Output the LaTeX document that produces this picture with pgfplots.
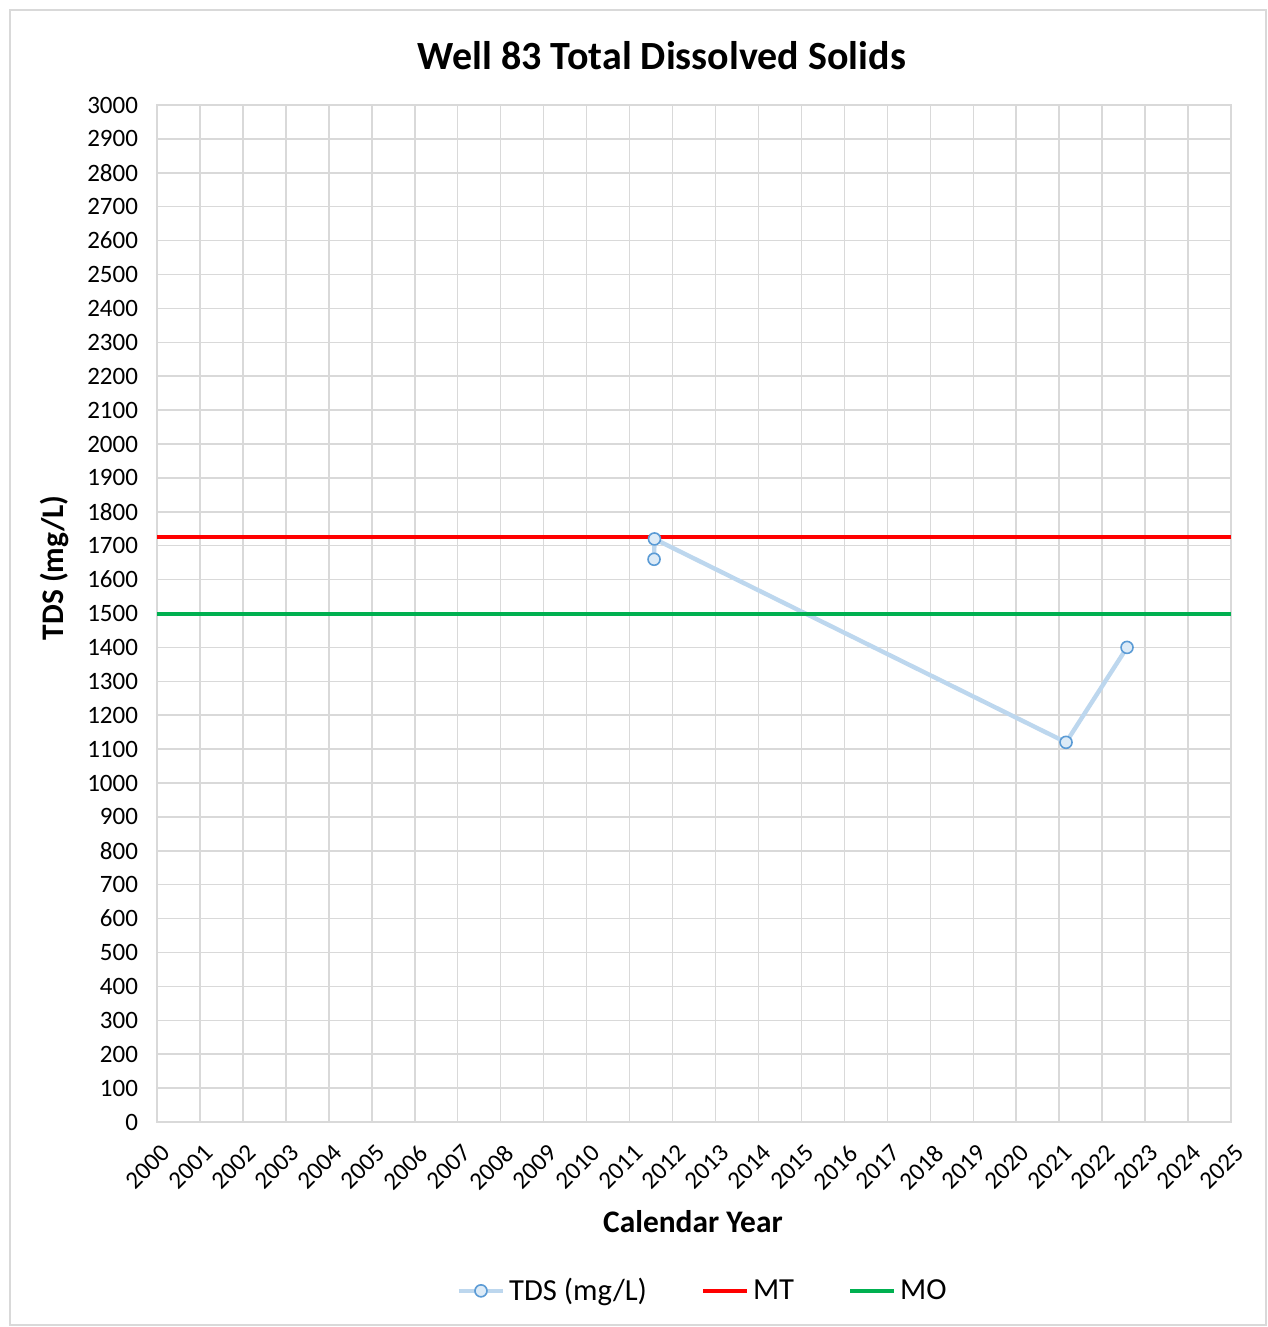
\documentclass[border=0pt]{standalone}
\usepackage{fontspec}
\setmainfont{Carlito}
\usepackage{pgfplots}
\pgfplotsset{compat=1.18}
\definecolor{gridc}{RGB}{217,217,217}
\definecolor{framec}{RGB}{217,217,217}
\definecolor{tdsline}{RGB}{189,215,238}
\definecolor{tdsedge}{RGB}{91,155,213}
\definecolor{tdsfill}{RGB}{221,235,247}
\definecolor{mtred}{RGB}{255,0,0}
\definecolor{mogreen}{RGB}{0,176,80}
\begin{document}
\begin{tikzpicture}
\path[use as bounding box] (0pt,0pt) rectangle (634pt,-663.5pt);
\draw[framec, line width=0.6pt] (5pt,-5pt) rectangle (633pt,-662.5pt);
\begin{axis}[
  at={(78.5pt,-561pt)}, anchor=south west,
  scale only axis, width=537pt, height=508.5pt,
  xmin=2000, xmax=2025, ymin=0, ymax=3000,
  xtick={2000,2001,...,2025}, ytick={0,100,...,3000},
  /pgf/number format/1000 sep={},
  /pgf/number format/assume math mode=true,
  major tick length=0pt,
  grid=major,
  major grid style={draw=gridc, line width=0.75pt},
  axis line style={draw=gridc, line width=0.75pt},
  ticklabel style={font=\fontsize{12.5}{14}\selectfont},
  yticklabel style={xshift=-6pt},
  xticklabel style={xshift=1.5pt, yshift=-9pt, rotate=45, anchor=north east, inner sep=1pt},
  title={Well 83 Total Dissolved Solids},
  title style={font=\fontsize{20}{24}\selectfont\bfseries, at={(axis description cs:0.470,1.037)}, anchor=center},
  xlabel={Calendar Year},
  xlabel style={font=\fontsize{15.7}{18}\selectfont\bfseries, at={(axis description cs:0.499,-0.098)}, anchor=center},
  ylabel={TDS (mg/L)},
  ylabel style={font=\fontsize{15.7}{18}\selectfont\bfseries, at={(axis description cs:-0.095,0.545)}, anchor=center},
  legend style={at={(axis description cs:0.509,-0.166)}, anchor=center, draw=none,
    font=\fontsize{15.3}{18}\selectfont, legend columns=3,
    /tikz/every even column/.append style={column sep=25pt}},
  legend image code/.code={\draw[mark repeat=2,mark phase=2,#1] plot coordinates {(0pt,0pt)(11pt,0pt)(22pt,0pt)};},
  clip=false,
]
\addplot[color=tdsline, line width=2.2pt, mark=*, mark size=3pt,
  mark options={draw=tdsedge, fill=tdsfill, line width=0.8pt, solid}]
  coordinates {(2011.57,1660) (2011.58,1720) (2021.16,1120) (2022.58,1400)};
\addlegendentry{TDS (mg/L)}
\addplot[color=mtred, line width=2pt, no marks] coordinates {(2000,1725) (2025,1725)};
\addlegendentry{MT}
\addplot[color=mogreen, line width=2pt, no marks] coordinates {(2000,1500) (2025,1500)};
\addlegendentry{MO}
\end{axis}
\end{tikzpicture}
\end{document}
